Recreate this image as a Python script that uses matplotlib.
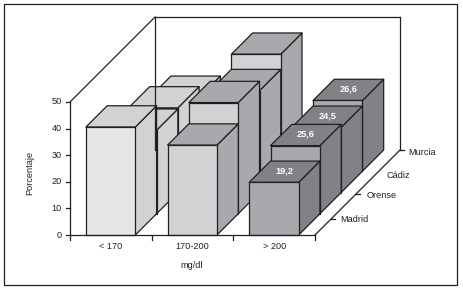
from matplotlib import pyplot as plt
from matplotlib.patches import Polygon, Rectangle

groups = ["< 170", "170-200", "> 200"]
regions = ["Madrid", "Orense", "Cádiz", "Murcia"]
y_ticks = [0, 10, 20, 30, 40, 50]

madrid = [40.6, 33.8, 19.8]
orense = [31.4, 41.8, 25.6]
cadiz = [31.8, 38.3, 24.5]
murcia = [27.8, 44.0, 26.6]

# only the last group carries printed values
value_labels = {(2, 0): "19,2", (2, 1): "25,6", (2, 2): "24,5", (2, 3): "26,6"}

front_colors = ["#e6e6e7", "#d1d2d4", "#a7a9ac"]
shade_colors = ["#d1d2d4", "#a7a9ac", "#808285"]
ink = "#231f20"

X0, Y0 = 70.0, 235.0
X_UNIT, Y_UNIT, D_UNIT = 81.67, 2.66, 21.25
GAP, BAR = 0.195, 0.605


def proj(cat, depth, value):
    # oblique projection from chart units to image pixels
    return (X0 + cat * X_UNIT + depth * D_UNIT,
            Y0 - value * Y_UNIT - depth * D_UNIT)


def draw_bar(ax, cat, row, value):
    left = cat + GAP
    right = left + BAR
    front = [proj(left, row, 0), proj(right, row, 0), proj(right, row, value), proj(left, row, value)]
    side = [proj(right, row, 0), proj(right, row + 1, 0), proj(right, row + 1, value), proj(right, row, value)]
    top = [proj(left, row, value), proj(right, row, value), proj(right, row + 1, value), proj(left, row + 1, value)]
    ax.add_patch(Polygon(side, fc=shade_colors[cat], ec=ink, lw=0.9, joinstyle='round'))
    ax.add_patch(Polygon(top, fc=shade_colors[cat], ec=ink, lw=0.9, joinstyle='round'))
    ax.add_patch(Polygon(front, fc=front_colors[cat], ec=ink, lw=0.9, joinstyle='round'))


def line(ax, a, b):
    ax.plot([a[0], b[0]], [a[1], b[1]], color=ink, lw=0.9, solid_capstyle='projecting')


plt.rcParams['font.family'] = ['Liberation Sans', 'DejaVu Sans']
plt.rcParams['font.size'] = 6.6

fig = plt.figure(figsize=(4.63, 2.89), dpi=100)
ax = fig.add_axes([0, 0, 1, 1])
ax.set_xlim(0, 463)
ax.set_ylim(289, 0)
ax.axis('off')

ax.add_patch(Rectangle((4, 3.5), 453, 281.5, fc='white', ec=ink, lw=0.9))

# walls
line(ax, proj(0, 0, 50), proj(0, 4, 50))
line(ax, proj(0, 4, 50), proj(3, 4, 50))
line(ax, proj(3, 4, 50), proj(3, 4, 0))
line(ax, proj(0, 4, 50), proj(0, 4, 0))

series = [madrid, orense, cadiz, murcia]
for row in range(len(regions) - 1, -1, -1):
    for cat in range(len(groups)):
        draw_bar(ax, cat, row, series[row][cat])
        if (cat, row) in value_labels:
            tx, ty = proj(cat + GAP + BAR / 2, row + 0.5, series[row][cat])
            ax.text(tx, ty - 1, value_labels[(cat, row)], color='white', ha='center', va='center', fontweight='bold')

# axes
line(ax, proj(0, 0, 0), proj(0, 0, 50))
line(ax, proj(0, 0, 0), proj(3, 0, 0))
line(ax, proj(3, 0, 0), proj(3, 4, 0))

for t in y_ticks:
    x, y = proj(0, 0, t)
    ax.plot([x - 4, x], [y, y], color=ink, lw=0.9)
    ax.text(x - 8, y, str(t), color=ink, ha='right', va='center')

for i in range(len(groups) + 1):
    x, y = proj(i, 0, 0)
    ax.plot([x, x], [y, y + 5], color=ink, lw=0.9)

for i, name in enumerate(groups):
    x, y = proj(i + 0.5, 0, 0)
    ax.text(x, 246.7, name, color=ink, ha='center', va='center')

ax.text(192, 266, "mg/dl", color=ink, ha='center', va='center')
ax.text(30, 173, "Porcentaje", color=ink, rotation=90, ha='center', va='center')

# depth axis, ticks are not evenly spaced in the original
depth_ticks = [0.76, 1.94, None, 4.0]
label_depths = [0.75, 1.85, 2.82, 3.9]
label_gaps = [9.5, 12, 12, 10]
for name, tick, d, gap in zip(regions, depth_ticks, label_depths, label_gaps):
    if tick is not None:
        x, y = proj(3, tick, 0)
        ax.plot([x, x + 3.5], [y, y], color=ink, lw=0.9)
    x, y = proj(3, d, 0)
    ax.text(x + gap, y, name, color=ink, ha='left', va='center')

fig.savefig("out.png", dpi=100)
